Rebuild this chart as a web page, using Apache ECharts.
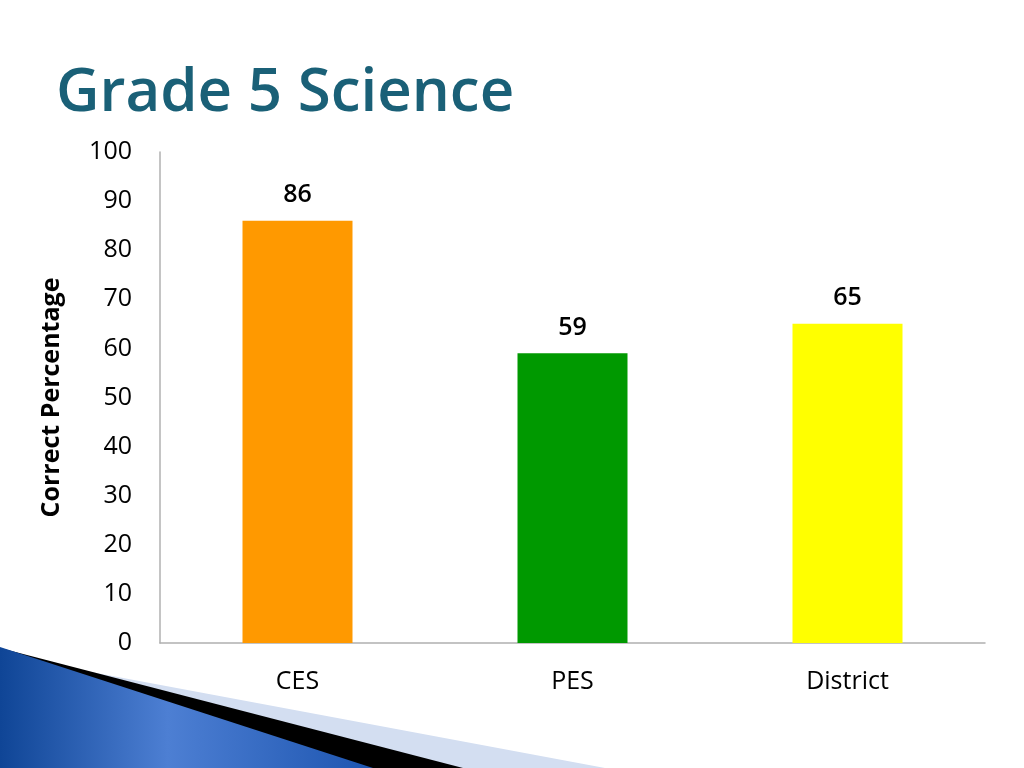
<!DOCTYPE html>
<html>
<head>
<meta charset="utf-8">
<title>Grade 5 Science</title>
<script src="https://cdn.jsdelivr.net/npm/echarts@6/dist/echarts.min.js"></script>
<style>
  html, body { margin: 0; padding: 0; background: #fff; }
  #chart { width: 1024px; height: 768px; }
</style>
</head>
<body>
<div id="chart"></div>
<script>
var categories = ['CES', 'PES', 'District'];
var scores = [86, 59, 65];
var barColors = ['#ff9900', '#009900', '#ffff00'];
var yTicks = [0, 10, 20, 30, 40, 50, 60, 70, 80, 90, 100];

var chart = echarts.init(document.getElementById('chart'));

var option = {
    backgroundColor: '#ffffff',
    animation: false,
    grid: { left: 160, right: 39, top: 152, bottom: 125 },
    graphic: [
        // bottom-left slide decoration
        {
            type: 'polygon', z: 1,
            shape: { points: [[0, 655], [605, 768], [0, 768]] },
            style: { fill: '#d3def1' }
        },
        {
            type: 'polygon', z: 2,
            shape: { points: [[0, 648], [463, 768], [0, 768]] },
            style: { fill: '#000000' }
        },
        {
            type: 'polygon', z: 3,
            shape: { points: [[0, 647], [373, 768], [0, 768]] },
            style: {
                fill: new echarts.graphic.LinearGradient(0, 0, 1, 0, [
                    { offset: 0, color: '#0f4596' },
                    { offset: 0.45, color: '#4d7fd3' },
                    { offset: 1, color: '#1d55b0' }
                ])
            }
        },
        {
            type: 'text', z: 10,
            left: 56, top: 64,
            style: {
                text: 'Grade 5 Science',
                font: '600 60px "Open Sans"',
                fill: '#1a6077',
                shadowColor: 'rgba(0,0,0,0.4)',
                shadowBlur: 3,
                shadowOffsetX: 2,
                shadowOffsetY: 2
            }
        }
    ],
    xAxis: {
        type: 'category',
        data: categories,
        axisLine: { lineStyle: { color: '#b0b0b0', width: 1.5 } },
        axisTick: { show: false },
        axisLabel: {
            color: '#000', fontSize: 25, fontFamily: 'Open Sans', margin: 26
        }
    },
    yAxis: {
        type: 'value',
        min: 0, max: 100, interval: 10,
        name: 'Correct Percentage',
        nameLocation: 'middle',
        nameGap: 96,
        nameTextStyle: {
            color: '#000', fontSize: 25, fontWeight: 'bold', fontFamily: 'Open Sans'
        },
        axisLine: { show: true, lineStyle: { color: '#b0b0b0', width: 1.5 } },
        axisTick: { show: false },
        splitLine: { show: false },
        axisLabel: {
            color: '#000', fontSize: 25, fontFamily: 'Open Sans', margin: 28,
            formatter: function (v) { return yTicks.indexOf(v) >= 0 ? String(v) : ''; }
        }
    },
    series: [{
        type: 'bar',
        barWidth: '40%',
        data: scores.map(function (v, i) {
            return { value: v, itemStyle: { color: barColors[i] } };
        }),
        label: {
            show: true,
            position: 'top',
            distance: 13,
            color: '#000',
            fontSize: 25,
            fontWeight: 600,
            fontFamily: 'Open Sans'
        }
    }]
};

chart.setOption(option);
</script>
</body>
</html>
